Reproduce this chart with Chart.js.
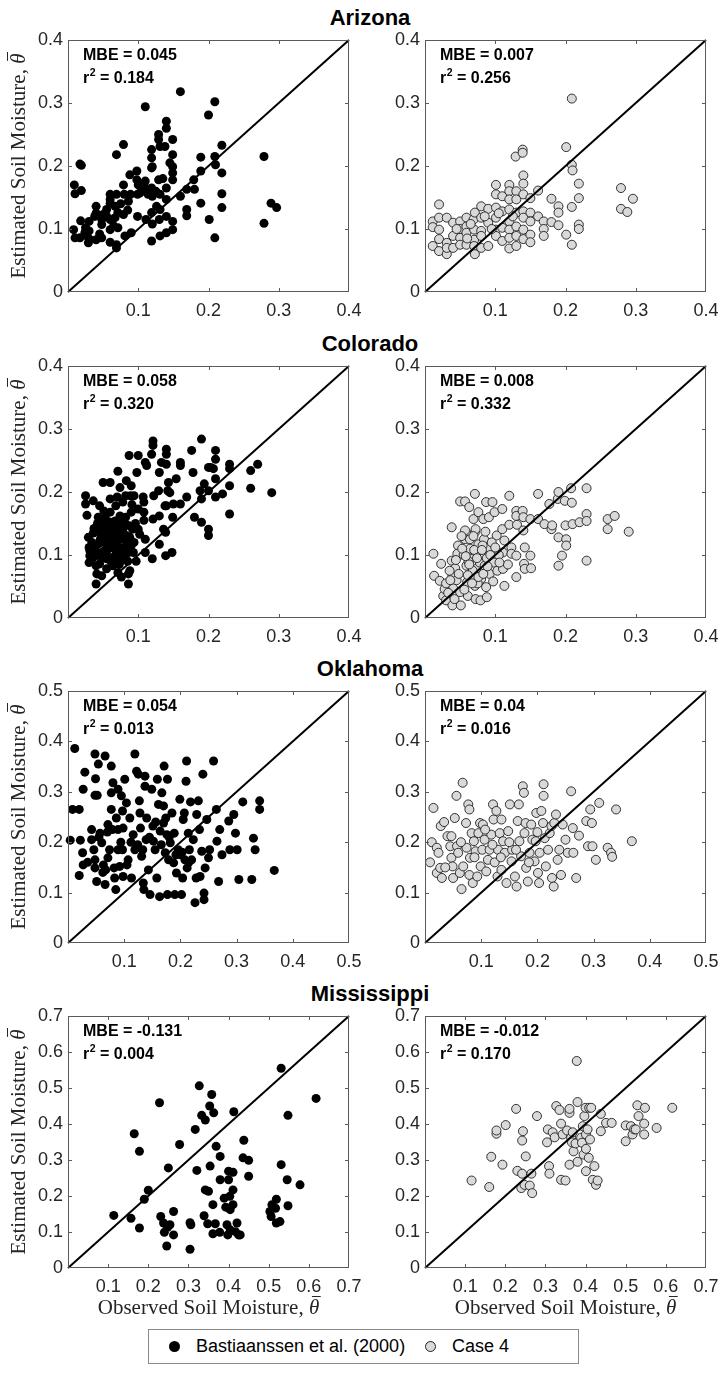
<!DOCTYPE html>
<html>
<head>
<meta charset="utf-8">
<script src="https://cdn.jsdelivr.net/npm/chart.js"></script>
<style>
  body { margin: 0; background: #fff; width: 722px; height: 1374px; position: relative; overflow: hidden; }
  canvas { position: absolute; }
  .title { position: absolute; left: 270px; width: 200px; text-align: center; line-height: 22px;
           font: bold 22px "Liberation Sans", Arial, sans-serif; color: #000; }
  #legend { position: absolute; left: 148px; top: 1329px; width: 429px; height: 33px;
            border: 1px solid #8a8a8a; background: #fff; font: 18px "Liberation Sans", Arial, sans-serif; color: #000; }
  #legend span { position: absolute; }
  .dot { width: 11px; height: 11px; border-radius: 50%; top: 11px; box-sizing: border-box; }
  .lt { top: 6px; line-height: 20px; white-space: nowrap; }
</style>
</head>
<body>
<div id="legend">
  <span class="dot" style="left:20px;background:#000;"></span>
  <span class="lt" id="lg1" style="left:47px;"></span>
  <span class="dot" style="left:276px;background:#d9d9d9;border:1px solid #222;"></span>
  <span class="lt" id="lg2" style="left:303px;"></span>
</div>
<script>
// panel titles and annotations
const regions = ['Arizona', 'Colorado', 'Oklahoma', 'Mississippi'];
const axisMax = [0.4, 0.4, 0.5, 0.7];
const seriesNames = ['Bastiaanssen et al. (2000)', 'Case 4'];
const mbeBast = ['0.045', '0.058', '0.054', '-0.131'];
const r2Bast = ['0.184', '0.320', '0.013', '0.004'];
const mbeCase4 = ['0.007', '0.008', '0.04', '-0.012'];
const r2Case4 = ['0.256', '0.332', '0.016', '0.170'];

// [observed, estimated] pairs
const arizonaBast = [
  [0.009,0.170],[0.010,0.156],[0.019,0.201],[0.017,0.203],[0.019,0.161],[0.018,0.113],[0.008,0.099],[0.010,0.086],
  [0.017,0.086],[0.024,0.094],[0.029,0.086],[0.029,0.078],[0.030,0.097],[0.030,0.112],[0.040,0.136],[0.038,0.120],
  [0.040,0.083],[0.048,0.086],[0.050,0.123],[0.048,0.107],[0.055,0.131],[0.055,0.120],[0.060,0.147],[0.060,0.155],
  [0.060,0.141],[0.060,0.115],[0.060,0.099],[0.060,0.079],[0.067,0.118],[0.067,0.136],[0.069,0.218],[0.069,0.075],
  [0.069,0.070],[0.071,0.102],[0.069,0.155],[0.071,0.126],[0.079,0.234],[0.079,0.170],[0.080,0.155],[0.079,0.123],
  [0.081,0.089],[0.088,0.186],[0.086,0.144],[0.089,0.155],[0.090,0.094],[0.098,0.192],[0.098,0.178],[0.100,0.170],
  [0.099,0.155],[0.099,0.120],[0.102,0.157],[0.110,0.294],[0.110,0.176],[0.110,0.165],[0.111,0.115],[0.114,0.155],
  [0.119,0.226],[0.119,0.213],[0.120,0.199],[0.119,0.197],[0.119,0.165],[0.120,0.152],[0.119,0.126],[0.120,0.108],
  [0.119,0.081],[0.129,0.250],[0.129,0.242],[0.131,0.231],[0.129,0.178],[0.131,0.155],[0.126,0.136],[0.131,0.131],
  [0.130,0.115],[0.131,0.089],[0.138,0.231],[0.140,0.271],[0.140,0.260],[0.140,0.165],[0.140,0.147],[0.140,0.120],
  [0.140,0.094],[0.149,0.242],[0.149,0.218],[0.149,0.199],[0.149,0.189],[0.149,0.178],[0.149,0.112],[0.149,0.099],
  [0.160,0.152],[0.160,0.318],[0.169,0.163],[0.169,0.131],[0.169,0.121],[0.179,0.178],[0.180,0.163],[0.189,0.192],
  [0.189,0.214],[0.189,0.141],[0.200,0.281],[0.201,0.115],[0.209,0.302],[0.209,0.215],[0.210,0.202],[0.209,0.086],
  [0.219,0.233],[0.219,0.189],[0.219,0.156],[0.219,0.134],[0.279,0.215],[0.279,0.109],[0.289,0.141],[0.297,0.134],
  [0.040,0.125],[0.048,0.115],[0.031,0.083],[0.025,0.102],[0.045,0.092],[0.065,0.105],[0.075,0.140],[0.085,0.130],
  [0.125,0.160],[0.135,0.180],[0.145,0.205],[0.106,0.160]
];
const arizonaCase4 = [
  [0.011,0.112],[0.011,0.103],[0.011,0.073],[0.020,0.139],[0.020,0.118],[0.020,0.099],[0.020,0.084],[0.020,0.065],
  [0.031,0.118],[0.031,0.078],[0.031,0.060],[0.031,0.070],[0.040,0.110],[0.040,0.089],[0.040,0.070],[0.050,0.112],
  [0.050,0.100],[0.050,0.086],[0.050,0.075],[0.059,0.118],[0.059,0.104],[0.059,0.094],[0.059,0.075],[0.069,0.115],
  [0.070,0.099],[0.070,0.083],[0.070,0.073],[0.071,0.060],[0.071,0.126],[0.080,0.136],[0.080,0.118],[0.080,0.097],
  [0.080,0.089],[0.080,0.070],[0.090,0.132],[0.090,0.110],[0.090,0.073],[0.101,0.170],[0.101,0.155],[0.101,0.134],
  [0.101,0.118],[0.101,0.099],[0.101,0.089],[0.110,0.152],[0.110,0.128],[0.110,0.102],[0.110,0.081],[0.120,0.170],
  [0.120,0.160],[0.120,0.147],[0.120,0.131],[0.120,0.112],[0.120,0.099],[0.120,0.086],[0.120,0.069],[0.129,0.215],
  [0.130,0.160],[0.130,0.147],[0.130,0.126],[0.130,0.104],[0.130,0.089],[0.130,0.073],[0.139,0.226],[0.139,0.221],
  [0.140,0.185],[0.140,0.172],[0.140,0.155],[0.140,0.128],[0.140,0.118],[0.140,0.099],[0.140,0.084],[0.150,0.149],
  [0.150,0.126],[0.150,0.112],[0.150,0.091],[0.150,0.079],[0.161,0.161],[0.161,0.120],[0.169,0.112],[0.169,0.100],
  [0.169,0.089],[0.180,0.148],[0.180,0.111],[0.190,0.136],[0.190,0.126],[0.190,0.106],[0.201,0.230],[0.201,0.091],
  [0.209,0.307],[0.209,0.202],[0.210,0.193],[0.209,0.135],[0.209,0.075],[0.219,0.172],[0.219,0.149],[0.219,0.107],
  [0.219,0.100],[0.279,0.165],[0.279,0.132],[0.288,0.127],[0.296,0.148],[0.065,0.108],[0.085,0.120],[0.095,0.100],
  [0.105,0.125],[0.125,0.120],[0.060,0.085],[0.045,0.100]
];
const coloradoBast = [
  [0.025,0.194],[0.025,0.181],[0.027,0.163],[0.029,0.128],[0.030,0.112],[0.030,0.088],[0.031,0.099],[0.036,0.186],
  [0.037,0.142],[0.038,0.115],[0.040,0.099],[0.040,0.083],[0.041,0.070],[0.040,0.054],[0.045,0.178],[0.045,0.141],
  [0.046,0.125],[0.048,0.104],[0.048,0.067],[0.050,0.215],[0.051,0.170],[0.052,0.154],[0.052,0.136],[0.055,0.117],
  [0.055,0.094],[0.055,0.078],[0.060,0.215],[0.060,0.189],[0.060,0.168],[0.060,0.152],[0.062,0.131],[0.062,0.112],
  [0.063,0.096],[0.064,0.083],[0.067,0.154],[0.068,0.178],[0.069,0.141],[0.069,0.117],[0.069,0.104],[0.070,0.192],
  [0.071,0.233],[0.071,0.072],[0.074,0.207],[0.074,0.162],[0.075,0.136],[0.075,0.091],[0.076,0.065],[0.078,0.184],
  [0.079,0.152],[0.080,0.125],[0.080,0.112],[0.081,0.099],[0.082,0.194],[0.083,0.218],[0.086,0.147],[0.086,0.070],
  [0.087,0.258],[0.086,0.054],[0.088,0.075],[0.089,0.194],[0.090,0.210],[0.090,0.168],[0.090,0.115],[0.092,0.141],
  [0.093,0.104],[0.094,0.194],[0.098,0.231],[0.100,0.258],[0.100,0.173],[0.100,0.141],[0.102,0.133],[0.107,0.192],
  [0.108,0.184],[0.108,0.168],[0.108,0.155],[0.110,0.125],[0.110,0.104],[0.110,0.247],[0.112,0.242],[0.119,0.260],
  [0.121,0.281],[0.121,0.274],[0.120,0.094],[0.121,0.157],[0.122,0.194],[0.129,0.202],[0.130,0.162],[0.130,0.117],
  [0.130,0.231],[0.133,0.247],[0.136,0.141],[0.138,0.178],[0.139,0.136],[0.139,0.099],[0.140,0.268],[0.140,0.260],
  [0.140,0.244],[0.140,0.178],[0.142,0.202],[0.143,0.215],[0.145,0.199],[0.148,0.104],[0.149,0.160],[0.150,0.181],
  [0.154,0.221],[0.160,0.247],[0.160,0.242],[0.160,0.181],[0.169,0.192],[0.176,0.266],[0.178,0.231],[0.180,0.160],
  [0.188,0.202],[0.190,0.284],[0.190,0.189],[0.190,0.152],[0.194,0.213],[0.200,0.239],[0.200,0.202],[0.200,0.141],
  [0.200,0.131],[0.203,0.239],[0.207,0.237],[0.210,0.266],[0.210,0.252],[0.210,0.221],[0.210,0.192],[0.220,0.197],
  [0.230,0.244],[0.230,0.237],[0.230,0.210],[0.230,0.165],[0.260,0.234],[0.260,0.206],[0.270,0.244],[0.290,0.199],
  [0.031,0.107],[0.045,0.086],[0.052,0.107],[0.057,0.125],[0.064,0.120],[0.067,0.088],[0.071,0.099],[0.074,0.112],
  [0.083,0.131],[0.086,0.104],[0.058,0.140],[0.065,0.145],[0.072,0.125],[0.077,0.108],[0.043,0.160],[0.035,0.095],
  [0.034,0.120],[0.036,0.135],[0.039,0.108],[0.042,0.150],[0.044,0.118],[0.047,0.132],[0.049,0.095],[0.050,0.145],
  [0.053,0.160],[0.054,0.102],[0.056,0.140],[0.058,0.110],[0.059,0.128],[0.061,0.090],[0.063,0.145],[0.065,0.118],
  [0.066,0.132],[0.068,0.095],[0.070,0.150],[0.072,0.110],[0.073,0.085],[0.076,0.128],[0.078,0.140],[0.080,0.100],
  [0.082,0.160],[0.084,0.118],[0.085,0.090],[0.088,0.128],[0.091,0.180],[0.094,0.120],[0.096,0.150],[0.097,0.090]
];
const coloradoCase4 = [
  [0.012,0.102],[0.013,0.067],[0.021,0.059],[0.023,0.086],[0.026,0.035],[0.028,0.046],[0.030,0.028],[0.038,0.144],
  [0.038,0.091],[0.039,0.067],[0.039,0.020],[0.040,0.047],[0.043,0.079],[0.047,0.115],[0.046,0.102],[0.050,0.185],
  [0.050,0.041],[0.051,0.020],[0.057,0.185],[0.057,0.139],[0.057,0.125],[0.059,0.083],[0.060,0.057],[0.061,0.035],
  [0.063,0.176],[0.064,0.125],[0.064,0.110],[0.065,0.094],[0.066,0.067],[0.069,0.157],[0.071,0.197],[0.071,0.136],
  [0.072,0.141],[0.071,0.051],[0.072,0.030],[0.073,0.078],[0.076,0.168],[0.076,0.117],[0.077,0.104],[0.078,0.088],
  [0.079,0.028],[0.080,0.062],[0.083,0.157],[0.084,0.125],[0.085,0.099],[0.085,0.083],[0.087,0.184],[0.087,0.049],
  [0.088,0.033],[0.090,0.112],[0.091,0.160],[0.092,0.070],[0.096,0.184],[0.098,0.088],[0.099,0.168],[0.102,0.131],
  [0.103,0.075],[0.110,0.173],[0.110,0.141],[0.111,0.104],[0.111,0.078],[0.113,0.051],[0.113,0.123],[0.120,0.194],
  [0.120,0.148],[0.123,0.112],[0.123,0.102],[0.130,0.170],[0.130,0.162],[0.130,0.099],[0.130,0.065],[0.131,0.148],
  [0.139,0.170],[0.140,0.160],[0.140,0.139],[0.141,0.086],[0.142,0.078],[0.142,0.112],[0.150,0.157],[0.150,0.099],
  [0.151,0.079],[0.161,0.197],[0.161,0.157],[0.170,0.149],[0.177,0.181],[0.180,0.141],[0.181,0.147],[0.189,0.189],
  [0.190,0.200],[0.190,0.128],[0.190,0.083],[0.195,0.099],[0.199,0.186],[0.200,0.147],[0.201,0.125],[0.201,0.115],
  [0.208,0.206],[0.209,0.183],[0.210,0.149],[0.220,0.152],[0.230,0.206],[0.230,0.165],[0.230,0.154],[0.230,0.091],
  [0.260,0.157],[0.260,0.141],[0.270,0.162],[0.290,0.137],[0.055,0.100],[0.062,0.090],[0.068,0.075],[0.075,0.055],
  [0.082,0.115],[0.088,0.095],[0.095,0.120],[0.105,0.100],[0.118,0.085],[0.045,0.060],[0.035,0.075],[0.052,0.130],
  [0.030,0.055],[0.033,0.040],[0.036,0.060],[0.042,0.030],[0.044,0.092],[0.048,0.070],[0.053,0.110],[0.056,0.045],
  [0.058,0.098],[0.061,0.068],[0.063,0.085],[0.067,0.055],[0.069,0.130],[0.070,0.108],[0.074,0.095],[0.076,0.065],
  [0.081,0.108],[0.083,0.070],[0.086,0.137],[0.089,0.082],[0.093,0.100],[0.097,0.058],[0.100,0.112],[0.106,0.088]
];
const oklahomaBast = [
  [0.004,0.204],[0.012,0.386],[0.008,0.265],[0.020,0.265],[0.022,0.204],[0.020,0.134],[0.026,0.179],[0.027,0.155],
  [0.027,0.305],[0.030,0.339],[0.048,0.375],[0.049,0.326],[0.048,0.293],[0.052,0.293],[0.042,0.225],[0.042,0.205],
  [0.046,0.185],[0.048,0.165],[0.048,0.149],[0.051,0.122],[0.054,0.355],[0.057,0.218],[0.060,0.199],[0.063,0.155],
  [0.066,0.371],[0.066,0.116],[0.067,0.145],[0.071,0.235],[0.071,0.169],[0.074,0.185],[0.077,0.351],[0.077,0.298],
  [0.077,0.265],[0.079,0.225],[0.080,0.318],[0.082,0.149],[0.083,0.129],[0.085,0.106],[0.086,0.248],[0.089,0.225],
  [0.089,0.185],[0.089,0.305],[0.092,0.152],[0.095,0.292],[0.097,0.262],[0.097,0.185],[0.098,0.228],[0.098,0.132],
  [0.101,0.325],[0.104,0.278],[0.105,0.155],[0.107,0.165],[0.110,0.248],[0.113,0.129],[0.119,0.375],[0.119,0.185],
  [0.122,0.341],[0.125,0.335],[0.127,0.282],[0.128,0.258],[0.129,0.228],[0.131,0.172],[0.134,0.119],[0.135,0.106],
  [0.137,0.331],[0.137,0.311],[0.139,0.205],[0.140,0.248],[0.143,0.145],[0.146,0.096],[0.149,0.305],[0.151,0.232],
  [0.152,0.202],[0.155,0.185],[0.158,0.129],[0.159,0.325],[0.161,0.275],[0.163,0.092],[0.164,0.222],[0.167,0.298],
  [0.170,0.272],[0.170,0.238],[0.171,0.351],[0.173,0.179],[0.174,0.248],[0.176,0.215],[0.177,0.325],[0.177,0.096],
  [0.179,0.165],[0.182,0.199],[0.185,0.258],[0.188,0.159],[0.189,0.218],[0.190,0.096],[0.193,0.139],[0.196,0.185],
  [0.199,0.285],[0.200,0.175],[0.202,0.096],[0.204,0.129],[0.205,0.245],[0.207,0.258],[0.208,0.165],[0.210,0.321],
  [0.211,0.361],[0.212,0.149],[0.214,0.218],[0.216,0.185],[0.218,0.280],[0.220,0.165],[0.223,0.205],[0.226,0.080],
  [0.228,0.129],[0.229,0.255],[0.232,0.282],[0.234,0.225],[0.235,0.132],[0.238,0.182],[0.240,0.335],[0.242,0.099],
  [0.242,0.086],[0.244,0.149],[0.247,0.245],[0.250,0.169],[0.252,0.185],[0.259,0.361],[0.264,0.265],[0.265,0.202],
  [0.268,0.122],[0.270,0.225],[0.274,0.175],[0.286,0.242],[0.288,0.185],[0.295,0.255],[0.298,0.218],[0.301,0.185],
  [0.304,0.126],[0.311,0.280],[0.327,0.126],[0.330,0.208],[0.333,0.185],[0.341,0.282],[0.341,0.265],[0.367,0.144],
  [0.035,0.160],[0.055,0.210],[0.062,0.140],[0.070,0.220],[0.094,0.200],[0.112,0.200],[0.116,0.215],[0.124,0.195],
  [0.133,0.185],[0.145,0.210],[0.156,0.240],[0.166,0.195],[0.180,0.210],[0.192,0.175],[0.203,0.180],[0.215,0.160]
];
const oklahomaCase4 = [
  [0.009,0.160],[0.012,0.200],[0.015,0.268],[0.021,0.189],[0.024,0.179],[0.021,0.139],[0.027,0.149],[0.030,0.129],
  [0.028,0.232],[0.034,0.240],[0.040,0.212],[0.047,0.212],[0.045,0.192],[0.047,0.169],[0.049,0.152],[0.050,0.129],
  [0.053,0.248],[0.056,0.292],[0.057,0.192],[0.059,0.179],[0.062,0.139],[0.065,0.107],[0.067,0.318],[0.068,0.152],
  [0.073,0.238],[0.074,0.189],[0.077,0.275],[0.079,0.265],[0.079,0.135],[0.080,0.169],[0.083,0.218],[0.085,0.119],
  [0.087,0.202],[0.090,0.182],[0.093,0.132],[0.095,0.218],[0.098,0.238],[0.099,0.152],[0.102,0.185],[0.103,0.235],
  [0.106,0.205],[0.109,0.142],[0.112,0.165],[0.115,0.185],[0.118,0.215],[0.121,0.275],[0.122,0.245],[0.124,0.160],
  [0.127,0.262],[0.129,0.132],[0.130,0.185],[0.133,0.218],[0.136,0.245],[0.136,0.145],[0.139,0.202],[0.142,0.179],
  [0.145,0.119],[0.148,0.222],[0.151,0.275],[0.154,0.162],[0.155,0.185],[0.160,0.132],[0.163,0.112],[0.165,0.242],
  [0.167,0.275],[0.168,0.202],[0.171,0.172],[0.174,0.311],[0.176,0.298],[0.177,0.218],[0.179,0.238],[0.180,0.149],
  [0.183,0.122],[0.186,0.179],[0.189,0.235],[0.191,0.205],[0.195,0.162],[0.197,0.202],[0.198,0.258],[0.201,0.139],
  [0.203,0.119],[0.204,0.179],[0.207,0.262],[0.210,0.238],[0.211,0.315],[0.211,0.292],[0.213,0.208],[0.215,0.152],
  [0.219,0.185],[0.222,0.218],[0.225,0.232],[0.226,0.129],[0.229,0.112],[0.230,0.238],[0.233,0.255],[0.236,0.165],
  [0.239,0.185],[0.242,0.135],[0.245,0.235],[0.250,0.205],[0.254,0.179],[0.260,0.301],[0.263,0.228],[0.264,0.179],
  [0.269,0.129],[0.274,0.213],[0.287,0.242],[0.290,0.192],[0.294,0.265],[0.297,0.238],[0.298,0.192],[0.304,0.165],
  [0.310,0.278],[0.325,0.189],[0.331,0.179],[0.333,0.171],[0.340,0.265],[0.368,0.202],[0.036,0.150],[0.064,0.200],
  [0.088,0.170],[0.107,0.225],[0.120,0.195],[0.135,0.170],[0.150,0.200],[0.162,0.185],[0.185,0.160],[0.200,0.220]
];
const mississippiBast = [
  [0.114,0.146],[0.157,0.138],[0.165,0.373],[0.178,0.111],[0.178,0.324],[0.190,0.191],[0.200,0.216],[0.228,0.459],
  [0.231,0.143],[0.238,0.125],[0.240,0.099],[0.246,0.061],[0.248,0.113],[0.250,0.278],[0.254,0.120],[0.263,0.157],
  [0.263,0.092],[0.278,0.343],[0.304,0.052],[0.304,0.126],[0.306,0.120],[0.317,0.385],[0.321,0.271],[0.327,0.506],
  [0.333,0.424],[0.339,0.145],[0.342,0.411],[0.342,0.217],[0.348,0.123],[0.350,0.213],[0.353,0.450],[0.354,0.283],
  [0.358,0.482],[0.363,0.431],[0.361,0.176],[0.361,0.095],[0.367,0.123],[0.369,0.338],[0.378,0.099],[0.379,0.310],
  [0.379,0.245],[0.389,0.194],[0.393,0.169],[0.396,0.120],[0.398,0.092],[0.400,0.245],[0.400,0.269],[0.403,0.199],
  [0.404,0.162],[0.404,0.106],[0.411,0.266],[0.411,0.217],[0.411,0.176],[0.413,0.434],[0.417,0.101],[0.421,0.125],
  [0.425,0.092],[0.429,0.092],[0.436,0.306],[0.438,0.355],[0.450,0.299],[0.450,0.255],[0.503,0.157],[0.506,0.143],
  [0.508,0.176],[0.517,0.166],[0.519,0.191],[0.519,0.125],[0.528,0.129],[0.531,0.555],[0.531,0.287],[0.546,0.245],
  [0.548,0.424],[0.548,0.173],[0.578,0.231],[0.618,0.471]
];
const mississippiCase4 = [
  [0.116,0.243],[0.160,0.225],[0.165,0.309],[0.178,0.373],[0.178,0.382],[0.193,0.287],[0.201,0.397],[0.227,0.442],
  [0.230,0.270],[0.240,0.222],[0.242,0.262],[0.242,0.354],[0.244,0.380],[0.248,0.231],[0.251,0.310],[0.261,0.229],
  [0.265,0.262],[0.267,0.208],[0.279,0.422],[0.304,0.349],[0.306,0.385],[0.309,0.283],[0.310,0.262],[0.318,0.377],
  [0.323,0.363],[0.327,0.450],[0.335,0.439],[0.339,0.401],[0.339,0.245],[0.343,0.371],[0.350,0.243],[0.354,0.382],
  [0.360,0.431],[0.360,0.442],[0.364,0.362],[0.360,0.287],[0.366,0.349],[0.368,0.377],[0.370,0.324],[0.375,0.346],
  [0.378,0.575],[0.380,0.295],[0.380,0.461],[0.389,0.362],[0.391,0.348],[0.393,0.394],[0.395,0.315],[0.397,0.422],
  [0.400,0.445],[0.401,0.371],[0.401,0.331],[0.401,0.269],[0.405,0.385],[0.408,0.306],[0.409,0.445],[0.411,0.357],
  [0.414,0.445],[0.418,0.245],[0.422,0.283],[0.426,0.231],[0.430,0.243],[0.438,0.428],[0.438,0.380],[0.451,0.403],
  [0.465,0.403],[0.500,0.396],[0.500,0.352],[0.513,0.394],[0.517,0.371],[0.521,0.385],[0.525,0.385],[0.529,0.452],
  [0.532,0.422],[0.546,0.371],[0.546,0.401],[0.548,0.445],[0.577,0.389],[0.616,0.445]
];

const bastSeries = [arizonaBast, coloradoBast, oklahomaBast, mississippiBast];
const case4Series = [arizonaCase4, coloradoCase4, oklahomaCase4, mississippiCase4];

// page layout (pixels)
const plotTops = [40, 366, 691, 1016];
const plotH = 252, plotW = 281;
const colLeft = [68, 425];
const axW = 68, padTop = 40, padRight = 16;
const titleBaseline = [24, 350, 675, 1000];

const SANS = '"Liberation Sans", Arial, sans-serif';
const SERIF = '"Liberation Serif", "Times New Roman", serif';
const INK = '#262626';
const BOX = '#5a5a5a';

document.getElementById('lg1').textContent = seriesNames[0];
document.getElementById('lg2').textContent = seriesNames[1];

regions.forEach((name, i) => {
  const d = document.createElement('div');
  d.className = 'title';
  d.textContent = name;
  d.style.top = (titleBaseline[i] - 19) + 'px';
  document.body.appendChild(d);
});

function drawThetaLabel(ctx, text, cx, baseY) {
  const reg = '21px ' + SERIF, ital = 'italic 21px ' + SERIF;
  ctx.font = reg;
  const w1 = ctx.measureText(text).width;
  ctx.font = ital;
  const w2 = ctx.measureText('θ').width;
  const x0 = cx - (w1 + w2) / 2;
  ctx.fillStyle = INK;
  ctx.textAlign = 'left';
  ctx.textBaseline = 'alphabetic';
  ctx.font = reg;
  ctx.fillText(text, x0, baseY);
  ctx.font = ital;
  ctx.fillText('θ', x0 + w1, baseY);
  ctx.strokeStyle = INK;
  ctx.lineWidth = 1;
  ctx.beginPath();
  ctx.moveTo(x0 + w1 + 3, baseY - 17.5);
  ctx.lineTo(x0 + w1 + w2 + 1.5, baseY - 17.5);
  ctx.stroke();
}

// box, inward ticks, MBE / r2 text and axis labels
const framePlugin = {
  id: 'frame',
  afterDraw(chart, args, o) {
    const { ctx, chartArea: a, scales } = chart;
    ctx.save();
    ctx.strokeStyle = BOX;
    ctx.lineWidth = 1;
    ctx.strokeRect(a.left + 0.5, a.top + 0.5, a.right - a.left - 1, a.bottom - a.top - 1);
    ctx.beginPath();
    scales.x.ticks.forEach(t => {
      if (t.value <= 1e-9 || t.value >= scales.x.max - 1e-9) return;
      const px = Math.round(scales.x.getPixelForValue(t.value)) + 0.5;
      ctx.moveTo(px, a.bottom); ctx.lineTo(px, a.bottom - 4);
      ctx.moveTo(px, a.top); ctx.lineTo(px, a.top + 4);
    });
    scales.y.ticks.forEach(t => {
      if (t.value <= 1e-9 || t.value >= scales.y.max - 1e-9) return;
      const py = Math.round(scales.y.getPixelForValue(t.value)) + 0.5;
      ctx.moveTo(a.left, py); ctx.lineTo(a.left + 4, py);
      ctx.moveTo(a.right, py); ctx.lineTo(a.right - 4, py);
    });
    ctx.stroke();

    ctx.fillStyle = '#000';
    ctx.textAlign = 'left';
    ctx.textBaseline = 'alphabetic';
    const tx = a.left + 15;
    ctx.font = 'bold 16px ' + SANS;
    ctx.fillText('MBE = ' + o.mbe, tx, a.top + 20);
    ctx.fillText('r', tx, a.top + 43);
    const rw = ctx.measureText('r').width;
    ctx.font = 'bold 10.5px ' + SANS;
    ctx.fillText('2', tx + rw + 0.5, a.top + 36);
    const sw = ctx.measureText('2').width;
    ctx.font = 'bold 16px ' + SANS;
    ctx.fillText(' = ' + o.r2, tx + rw + sw + 0.5, a.top + 43);

    if (o.yLabel) {
      ctx.save();
      ctx.translate(a.left - 43, (a.top + a.bottom) / 2);
      ctx.rotate(-Math.PI / 2);
      drawThetaLabel(ctx, 'Estimated Soil Moisture, ', 0, 0);
      ctx.restore();
    }
    if (o.xLabel) {
      drawThetaLabel(ctx, 'Observed Soil Moisture, ', (a.left + a.right) / 2, a.bottom + 46);
    }
    ctx.restore();
  }
};

function fmt(v) { return (Math.round(v * 10) / 10).toFixed(1); }

function makePanel(row, col) {
  const points = (col === 0 ? bastSeries : case4Series)[row];
  const max = axisMax[row];
  const xAxH = row === 3 ? 62 : 30;
  const cv = document.createElement('canvas');
  const w = axW + plotW + padRight, h = padTop + plotH + xAxH;
  cv.width = w; cv.height = h;
  cv.style.width = w + 'px'; cv.style.height = h + 'px';
  cv.style.left = (colLeft[col] - axW) + 'px';
  cv.style.top = (plotTops[row] - padTop) + 'px';
  document.body.appendChild(cv);

  const tickFont = { family: SANS, size: 18 };
  new Chart(cv, {
    type: 'scatter',
    data: {
      datasets: [
        {
          type: 'line',
          data: [{ x: 0, y: 0 }, { x: max, y: max }],
          borderColor: '#000', borderWidth: 2, pointRadius: 0, order: 0, clip: false
        },
        {
          label: seriesNames[col],
          data: points.map(p => ({ x: p[0], y: p[1] })),
          pointRadius: 4.5,
          pointBackgroundColor: col === 0 ? '#000' : '#d9d9d9',
          pointBorderColor: col === 0 ? '#000' : '#1e1e1e',
          pointBorderWidth: col === 0 ? 0 : 0.9,
          order: 1, clip: false
        }
      ]
    },
    options: {
      responsive: false,
      animation: false,
      events: [],
      layout: { padding: { top: padTop, right: padRight, left: 0, bottom: 0 } },
      plugins: {
        legend: { display: false },
        tooltip: { enabled: false },
        frame: {
          mbe: col === 0 ? mbeBast[row] : mbeCase4[row],
          r2: col === 0 ? r2Bast[row] : r2Case4[row],
          yLabel: col === 0,
          xLabel: row === 3
        }
      },
      scales: {
        x: {
          type: 'linear', min: 0, max: max,
          border: { display: false },
          grid: { display: false, drawTicks: false },
          ticks: {
            stepSize: 0.1, autoSkip: false, maxRotation: 0, padding: 8,
            color: INK, font: tickFont,
            callback: v => Math.abs(v) < 1e-9 ? '' : fmt(v)
          },
          afterFit: s => { s.height = xAxH; s.paddingLeft = 0; s.paddingRight = 0; }
        },
        y: {
          type: 'linear', min: 0, max: max,
          border: { display: false },
          grid: { display: false, drawTicks: false },
          ticks: {
            stepSize: 0.1, autoSkip: false, padding: 5,
            color: INK, font: tickFont,
            callback: v => Math.abs(v) < 1e-9 ? '0' : fmt(v)
          },
          afterFit: s => { s.width = axW; s.paddingTop = 0; s.paddingBottom = 0; }
        }
      }
    },
    plugins: [framePlugin]
  });
}

for (let r = 0; r < 4; r++) {
  makePanel(r, 0);
  makePanel(r, 1);
}
</script>
</body>
</html>
